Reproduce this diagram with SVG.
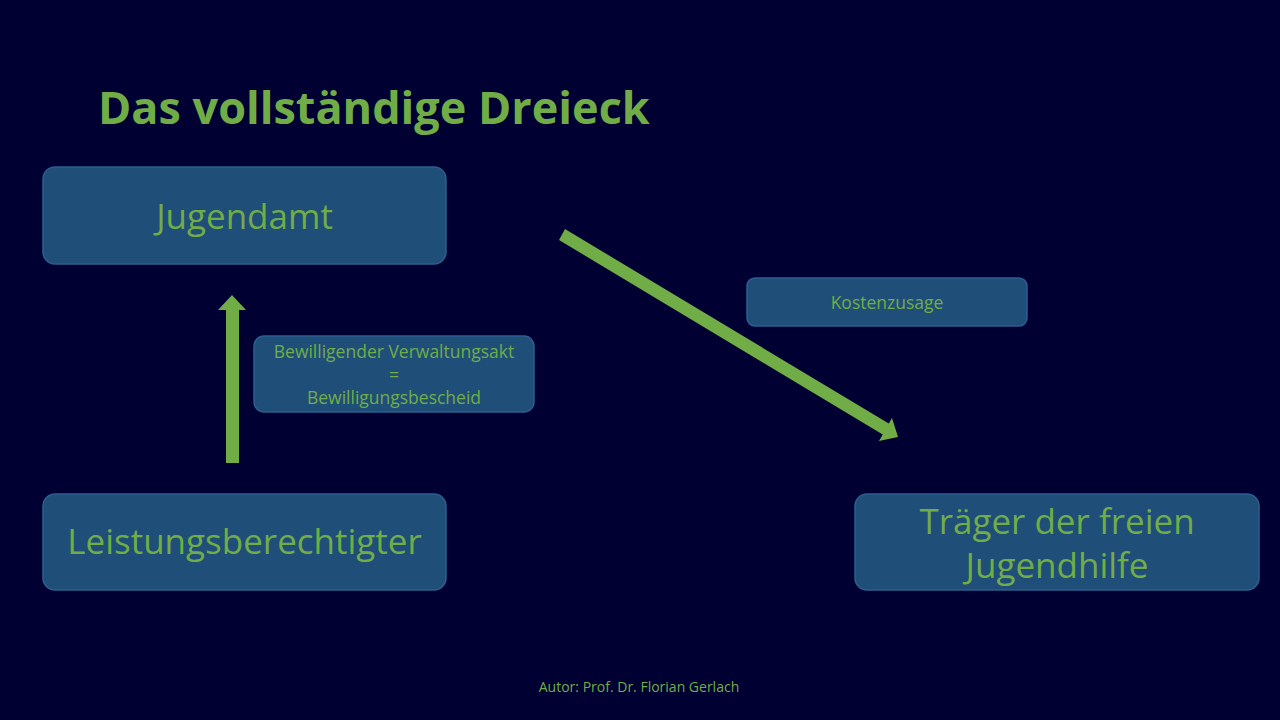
<svg xmlns="http://www.w3.org/2000/svg" width="1280" height="720" viewBox="0 0 1280 720">
<defs>
<style>
.box{fill:#1f4e79;stroke:#2d5f8e;stroke-width:1.5}
.t{font-family:"Open Sans","Noto Sans","Liberation Sans",sans-serif;fill:#70ad47;text-anchor:middle}
.big{font-size:35px}
.small{font-size:17.5px}
.arrow{fill:#70ad47}
</style>
</defs>
<rect x="0" y="0" width="1280" height="720" fill="#000033"/>
<text x="98" y="124" style="font-family:'Open Sans','Noto Sans','Liberation Sans',sans-serif;font-weight:bold;font-size:45px;fill:#70ad47">Das vollständige Dreieck</text>

<g id="connectors">
<polygon class="arrow" points="226,463 239,463 239,310 246,310 232,295 218,310 226,310"/>
<polygon class="arrow" points="565,229 888.8,423.6 892,418 898,437 879,441 882.7,434.5 559,240"/>
</g>

<g id="jugendamt">
<rect class="box" x="43" y="167" width="403" height="97" rx="12"/>
<text class="t big" x="244.5" y="229">Jugendamt</text>
</g>
<g id="leistungsberechtigter">
<rect class="box" x="43" y="494" width="403" height="96" rx="12"/>
<text class="t big" x="244.5" y="554">Leistungsberechtigter</text>
</g>
<g id="traeger">
<rect class="box" x="855" y="494" width="404" height="96" rx="12"/>
<text class="t big" x="1057" y="534">Träger der freien</text>
<text class="t big" x="1057" y="578">Jugendhilfe</text>
</g>
<g id="bewilligung">
<rect class="box" x="254" y="336" width="280" height="76" rx="10"/>
<text class="t small" x="394" y="358">Bewilligender Verwaltungsakt</text>
<text class="t small" x="394" y="381">=</text>
<text class="t small" x="394" y="404">Bewilligungsbescheid</text>
</g>
<g id="kostenzusage">
<rect class="box" x="747" y="278" width="280" height="48" rx="8"/>
<text class="t small" x="887" y="309">Kostenzusage</text>
</g>
<text x="639" y="692" style="font-family:'Open Sans','Noto Sans','Liberation Sans',sans-serif;font-size:14px;fill:#70ad47;text-anchor:middle">Autor: Prof. Dr. Florian Gerlach</text>
</svg>
